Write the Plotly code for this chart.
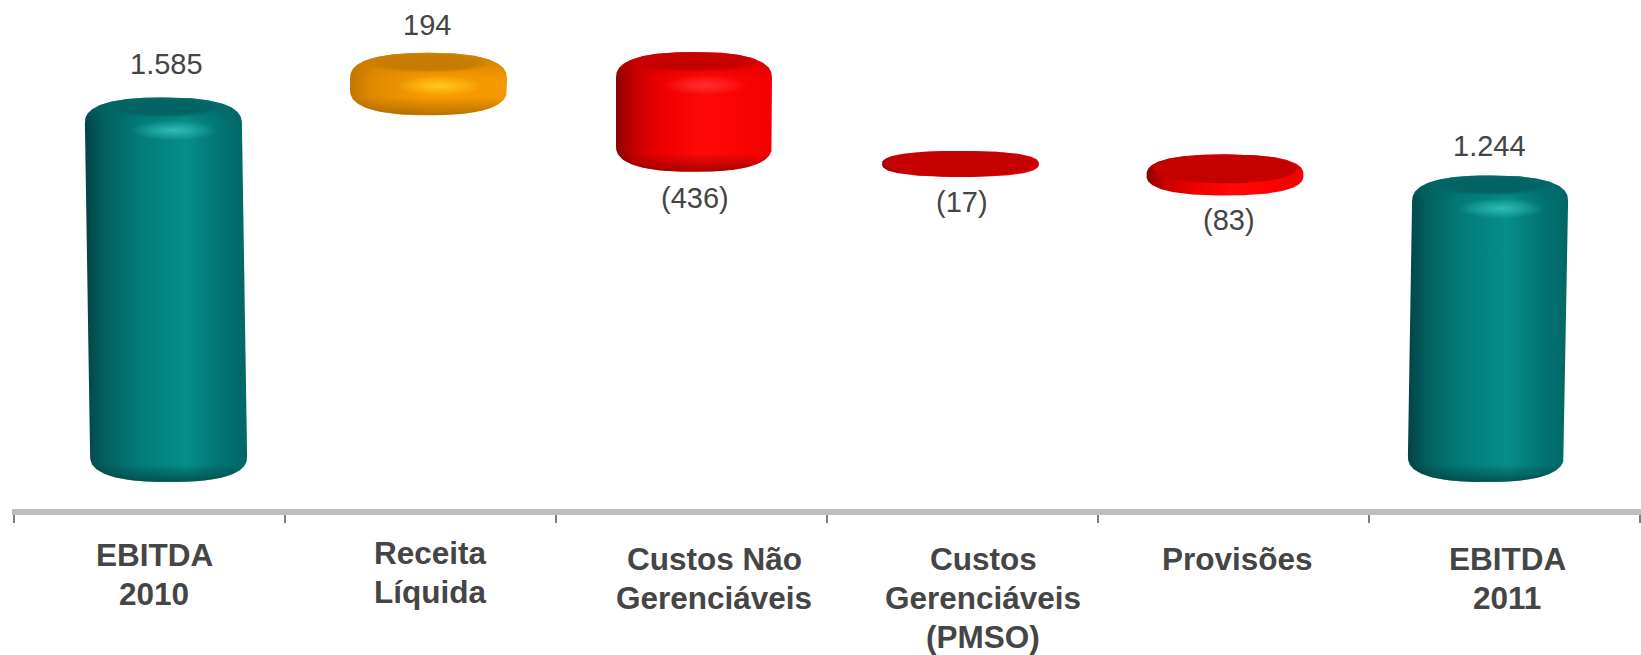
# EBITDA bridge 2010 -> 2011, drawn as shaded cylinders
import numpy as np
import plotly.graph_objects as go

categories = ['EBITDA<br>2010', 'Receita<br>Líquida', 'Custos Não<br>Gerenciáveis',
              'Custos<br>Gerenciáveis<br>(PMSO)', 'Provisões', 'EBITDA<br>2011']
values = [1585, 194, 436, 17, 83, 1244]
bases = [0, 1595, 1352, 1334, 1253, 0]
value_labels = ['1.585', '194', '(436)', '(17)', '(83)', '1.244']

# page geometry
W, H = 1641, 655
PLOT_L, PLOT_B = 12, 509
ZERO_PX, PX_PER_UNIT = 471, 0.2287
FIRST_PX, BAND_PX = 149.5, 271

# per bar look: centre shift from the band centre, half width, lean, cap overhang
shift_px = [16.5, 8, 2.5, -2, -8.5, -16.5]
half_w = [78.5, 78.5, 78, 78.5, 78.5, 78]
lean_px = [6, 0, 0, 0, 0, -5]
pad_px = [11, 9, 10, 11, 11, 11]
lid_h = [20, 20, 20, 26, 29, 20]
lid_w = [0.82, 0.84, 0.84, 0.99, 0.92, 0.82]
styles = ['teal', 'orange', 'red', 'red', 'red', 'teal']

palette = {
    'teal': dict(body=[[0, '#024345'], [0.12, '#03605f'], [0.32, '#037a78'], [0.62, '#068e89'],
                       [0.85, '#017372'], [1, '#016766']],
                 lid='4,100,100', glow='50,190,182', rim='0,55,55'),
    'red': dict(body=[[0, '#8a0000'], [0.12, '#c80000'], [0.32, '#f00000'], [0.55, '#ff0808'],
                      [1, '#f40000']],
                lid='196,0,0', glow='255,50,50', rim='120,0,0'),
    'orange': dict(body=[[0, '#c27600'], [0.15, '#e08a00'], [0.5, '#f99a00'], [1, '#f49800']],
                   lid='198,124,0', glow='255,205,30', rim='150,90,0'),
}

# value label centres and first line of each category label, pixels on the page
value_label_pos = [(166, 64), (427, 25), (695, 198), (962, 202), (1229, 220), (1489, 146)]
cat_label_pos = [(154, 555), (430, 553), (714, 559), (983, 559), (1237, 559), (1507, 559)]
CAT_LINE_PX = 38.8


def x_data(px):
    return (np.asarray(px, dtype=float) - FIRST_PX) / BAND_PX


def y_data(py):
    return (ZERO_PX - np.asarray(py, dtype=float)) / PX_PER_UNIT


def outline(cx, a, lean, top, bottom, y_from=None, y_to=None):
    # rounded cylinder silhouette between y_from and y_to, in page pixels
    height = bottom - top
    cap = min(height / 2, 26)
    y_from = top if y_from is None else y_from
    y_to = bottom if y_to is None else y_to
    t = np.linspace(0, np.pi / 2, 80)
    ys = np.r_[top + cap * (1 - np.sin(t)) ** 1.5, bottom - cap * (1 - np.sin(t)) ** 1.5, y_from, y_to]
    ys = np.unique(np.clip(ys, y_from, y_to))
    v = np.clip(np.maximum((top + cap - ys) / cap, (ys - bottom + cap) / cap), 0, 1)
    half = a * (1 - v ** 2.5) ** (1 / 2.5)
    mid = cx + lean * ((ys - top) / height - 0.5)
    return np.r_[mid + half, (mid - half)[::-1]], np.r_[ys, ys[::-1]]


def ellipse(cx, cy, a, b):
    t = np.linspace(0, 2 * np.pi, 120)
    return cx + a * np.cos(t), cy + b * np.sin(t)


fig = go.Figure()


def add_shape(xs, ys, **fill):
    fig.add_trace(go.Scatter(x=x_data(xs), y=y_data(ys), mode='lines', fill='toself',
                             line=dict(width=0), hoverinfo='skip', showlegend=False, **fill))


for i, (val, base) in enumerate(zip(values, bases)):
    c = palette[styles[i]]
    cx = FIRST_PX + BAND_PX * i + shift_px[i]
    a = half_w[i]
    top = ZERO_PX - (base + val) * PX_PER_UNIT - pad_px[i]
    bottom = ZERO_PX - base * PX_PER_UNIT + pad_px[i]
    height = bottom - top
    top_cx = cx - lean_px[i] / 2
    tall = height > 55

    xs, ys = outline(cx, a, lean_px[i], top, bottom)
    add_shape(xs, ys, fillgradient=dict(type='horizontal', colorscale=c['body']))

    # darker rim along the bottom, vertical gradients run upwards from 0
    if tall:
        xs, ys = outline(cx, a, lean_px[i], top, bottom, y_from=bottom - 18)
        add_shape(xs, ys, fillgradient=dict(type='vertical',
                                            colorscale=[[0, 'rgba(%s,0.65)' % c['rim']], [1, 'rgba(%s,0)' % c['rim']]]))

    # shoulder fading out under the lid
    cut = top + min(height * 0.45, 26)
    xs, ys = outline(cx, a, lean_px[i], top, bottom, y_to=cut)
    add_shape(xs, ys, fillgradient=dict(type='vertical',
                                        colorscale=[[0, 'rgba(%s,0)' % c['lid']], [1, 'rgba(%s,0.85)' % c['lid']]]))

    # highlight just below the lid
    if tall:
        xs, ys = ellipse(top_cx + 11, top + 33, a * 0.55, 10)
        add_shape(xs, ys, fillgradient=dict(type='radial',
                                            colorscale=[[0, 'rgba(%s,0.95)' % c['glow']], [1, 'rgba(%s,0)' % c['glow']]]))

    # lid: soft edge on the tall bars, plain on the flat ones
    xs, ys = ellipse(top_cx, top + lid_h[i] / 2, a * lid_w[i], lid_h[i] / 2)
    if tall:
        add_shape(xs, ys, fillgradient=dict(type='radial',
                                            colorscale=[[0, 'rgba(%s,1)' % c['lid']], [0.7, 'rgba(%s,1)' % c['lid']],
                                                        [1, 'rgba(%s,0)' % c['lid']]]))
    else:
        add_shape(xs, ys, fillcolor='rgb(%s)' % c['lid'])

text_color = '#454545'
annotations = []
for label, (px, py) in zip(value_labels, value_label_pos):
    annotations.append(dict(text=label, x=(px - PLOT_L) / (W - PLOT_L), y=(PLOT_B - py) / PLOT_B,
                            xref='paper', yref='paper',
                            showarrow=False, xanchor='center', yanchor='middle',
                            font=dict(family='Liberation Sans', size=29, color=text_color)))
# one annotation per line: the line pitch here is tighter than plotly's own <br>
for label, (px, py) in zip(categories, cat_label_pos):
    for k, part in enumerate(label.split('<br>')):
        annotations.append(dict(text='<b>%s</b>' % part,
                                x=(px - PLOT_L) / (W - PLOT_L), y=(PLOT_B - py - k * CAT_LINE_PX) / PLOT_B,
                                xref='paper', yref='paper',
                                showarrow=False, xanchor='center', yanchor='middle', align='center',
                                font=dict(family='Liberation Sans', size=31.5, color=text_color)))

fig.update_layout(
    width=W, height=H,
    margin=dict(l=PLOT_L, r=0, t=0, b=H - PLOT_B, pad=0),
    paper_bgcolor='white', plot_bgcolor='white',
    showlegend=False,
    annotations=annotations,
    xaxis=dict(range=[float(x_data(PLOT_L)), float(x_data(W))],
               tickmode='array', tickvals=[i - 0.5 for i in range(7)], ticktext=[''] * 7,
               ticks='outside', ticklen=8, tickwidth=2, tickcolor='#808080',
               showline=True, linewidth=6, linecolor='#bdbdbd',
               showgrid=False, zeroline=False, fixedrange=True),
    yaxis=dict(range=[float(y_data(PLOT_B)), float(y_data(0))], visible=False, fixedrange=True),
)

# the page's default body margin would push everything 8px down and right
fig.write_html("out.html", config=dict(displayModeBar=False),
               post_script="document.body.style.margin='0';")
